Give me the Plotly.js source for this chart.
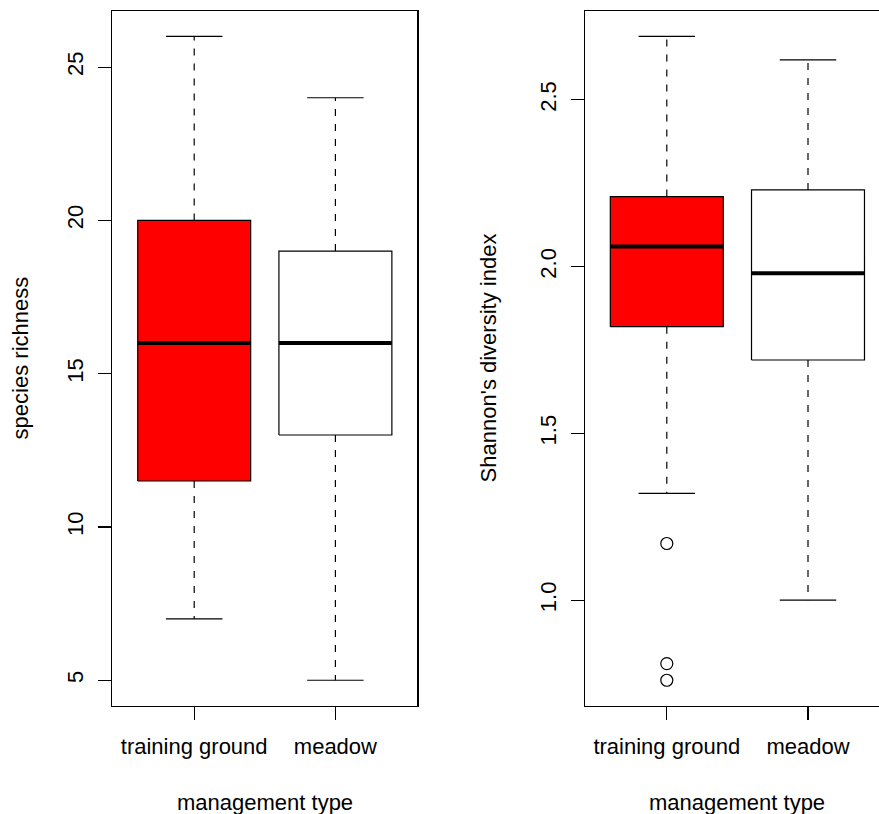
<!DOCTYPE html>
<html>
<head>
<meta charset="utf-8">
<script src="https://cdn.plot.ly/plotly-3.0.1.min.js"></script>
<style>
  html, body { margin: 0; padding: 0; background: #fff; }
  #chart { width: 879px; height: 814px; }
</style>
</head>
<body>
<div id="chart"></div>
<script>
// Management types (one box per type in each panel)
const groups = ['training ground', 'meadow'];
const boxFill = ['#FF0000', '#FFFFFF'];

// Species richness: five-number summaries per management type
const richLower  = [7, 5];
const richQ1     = [11.5, 13];
const richMedian = [16, 16];
const richQ3     = [20, 19];
const richUpper  = [26, 24];

// Shannon's diversity index: five-number summaries per management type
const shanLower  = [1.32, 1.00];
const shanQ1     = [1.82, 1.72];
const shanMedian = [2.06, 1.98];
const shanQ3     = [2.21, 2.23];
const shanUpper  = [2.69, 2.62];
// Outlying observations (training ground only)
const shanOutGroup = [1, 1, 1];
const shanOutValue = [1.17, 0.81, 0.76];

// Tick labels
const richTicks = [5, 10, 15, 20, 25];
const shanTicks = [1.0, 1.5, 2.0, 2.5];
const shanTickText = ['1.0', '1.5', '2.0', '2.5'];

const BOX_HALF = 0.4, CAP_HALF = 0.2;
const ink = '#000000';

// R-style boxplot: filled box, thick median, dashed whiskers, solid caps
function boxTraces(lower, q1, med, q3, upper, xa, ya) {
  const out = [];
  groups.forEach((g, i) => {
    const x = i + 1;
    const common = { xaxis: xa, yaxis: ya, mode: 'lines', hoverinfo: 'skip', showlegend: false };
    // whiskers
    out.push(Object.assign({}, common, {
      x: [x, x], y: [q3[i], upper[i]], line: { color: ink, width: 1.2, dash: '7px,8px' }
    }));
    out.push(Object.assign({}, common, {
      x: [x, x], y: [q1[i], lower[i]], line: { color: ink, width: 1.2, dash: '7px,8px' }
    }));
    // caps
    out.push(Object.assign({}, common, {
      x: [x - CAP_HALF, x + CAP_HALF], y: [upper[i], upper[i]], line: { color: ink, width: 1.2 }
    }));
    out.push(Object.assign({}, common, {
      x: [x - CAP_HALF, x + CAP_HALF], y: [lower[i], lower[i]], line: { color: ink, width: 1.2 }
    }));
    // box
    out.push(Object.assign({}, common, {
      x: [x - BOX_HALF, x + BOX_HALF, x + BOX_HALF, x - BOX_HALF, x - BOX_HALF],
      y: [q1[i], q1[i], q3[i], q3[i], q1[i]],
      fill: 'toself', fillcolor: boxFill[i], line: { color: ink, width: 1.2 }
    }));
    // median
    out.push(Object.assign({}, common, {
      x: [x - BOX_HALF, x + BOX_HALF], y: [med[i], med[i]], line: { color: ink, width: 4 }
    }));
  });
  return out;
}

const traces = []
  .concat(boxTraces(richLower, richQ1, richMedian, richQ3, richUpper, 'x', 'y'))
  .concat(boxTraces(shanLower, shanQ1, shanMedian, shanQ3, shanUpper, 'x2', 'y2'));

traces.push({
  x: shanOutGroup, y: shanOutValue, xaxis: 'x2', yaxis: 'y2',
  mode: 'markers', hoverinfo: 'skip', showlegend: false,
  marker: { symbol: 'circle-open', size: 12, color: ink, line: { width: 1.2, color: ink } }
});

const W = 879, H = 814;
const yDom = [1 - 706 / H, 1 - 10.7 / H];

const axisBase = {
  showgrid: false, zeroline: false, showline: true, linecolor: ink, linewidth: 1.2,
  ticks: 'outside', ticklen: 13, tickwidth: 1.2, tickcolor: ink, fixedrange: true,
  tickfont: { size: 22, color: ink }
};

const layout = {
  width: W, height: H,
  margin: { l: 0, r: 0, t: 0, b: 0 },
  paper_bgcolor: '#fff', plot_bgcolor: '#fff',
  font: { family: 'Liberation Sans, Arial, Helvetica, sans-serif', size: 22, color: ink },
  showlegend: false,
  xaxis: Object.assign({}, axisBase, {
    domain: [112.3 / W, 417.3 / W], range: [0.42, 2.58], anchor: 'y', mirror: true,
    tickvals: [1, 2], ticktext: groups, ticklabelstandoff: 7
  }),
  yaxis: Object.assign({}, axisBase, {
    domain: yDom, range: [4.16, 26.84], anchor: 'x', mirror: true,
    tickvals: richTicks, tickangle: -90, ticklabelstandoff: 6
  }),
  xaxis2: Object.assign({}, axisBase, {
    domain: [584.9 / W, 1], range: [0.42, 0.42 + (W - 584.9) / (305 / 2.16)], anchor: 'y2', mirror: true,
    tickvals: [1, 2], ticktext: groups, ticklabelstandoff: 7
  }),
  yaxis2: Object.assign({}, axisBase, {
    domain: yDom, range: [0.6828, 2.7672], anchor: 'x2', mirror: false,
    tickvals: shanTicks, ticktext: shanTickText, tickangle: -90, ticklabelstandoff: 6
  }),
  annotations: [
    { text: 'species richness', xref: 'paper', yref: 'paper', x: 20 / W, y: 1 - 358.4 / H,
      textangle: -90, showarrow: false, xanchor: 'center', yanchor: 'middle' },
    { text: "Shannon's diversity index", xref: 'paper', yref: 'paper', x: 488 / W, y: 1 - 358.4 / H,
      textangle: -90, showarrow: false, xanchor: 'center', yanchor: 'middle' },
    { text: 'management type', xref: 'paper', yref: 'paper', x: 264.8 / W, y: 1 - 802 / H,
      showarrow: false, xanchor: 'center', yanchor: 'middle' },
    { text: 'management type', xref: 'paper', yref: 'paper', x: 737.4 / W, y: 1 - 802 / H,
      showarrow: false, xanchor: 'center', yanchor: 'middle' }
  ]
};

Plotly.newPlot('chart', traces, layout, { staticPlot: true, displayModeBar: false });
</script>
</body>
</html>
